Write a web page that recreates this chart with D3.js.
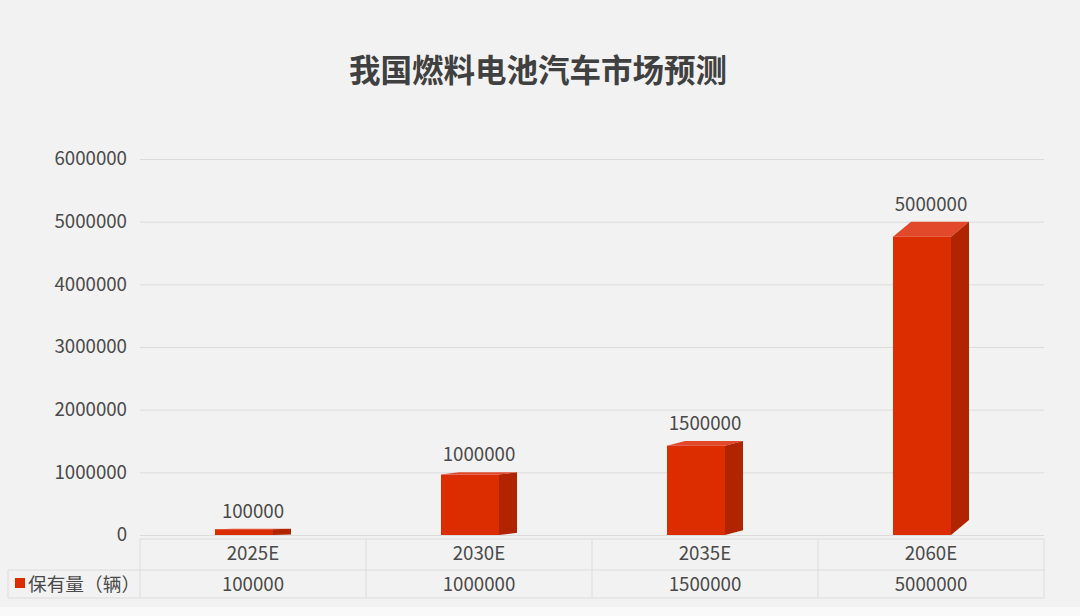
<!DOCTYPE html>
<html>
<head>
<meta charset="utf-8">
<script src="https://cdn.jsdelivr.net/npm/d3@7"></script>
<style>
  body { margin: 0; background: #f2f2f2; }
  svg { display: block; }
  text { font-family: "Noto Sans CJK SC", "Noto Sans", sans-serif; fill: #4a4a4a; }
</style>
</head>
<body>
<svg id="chart" width="1080" height="616"></svg>
<script>
// chart data
const categories = ['2025E', '2030E', '2035E', '2060E'];
const values = [100000, 1000000, 1500000, 5000000];
const yTicks = [0, 1000000, 2000000, 3000000, 4000000, 5000000, 6000000];
const seriesName = '保有量（辆）';
const title = '我国燃料电池汽车市场预测';

const width = 1080, height = 616;
const plotLeft = 140, plotRight = 1044, plotTop = 159, base = 535;
const frontW = 58, sideW = 18;   // bar front width, side (depth) width
const colFront = '#dc2d00', colTop = '#e2492a', colSide = '#b02400';
const lineColor = '#dcdcdc';
const labelSize = '18.7px';

const svg = d3.select('#chart');

// background, with the light strip at the very bottom
svg.append('rect').attr('width', width).attr('height', height).attr('fill', '#f2f2f2');
svg.append('rect').attr('y', 607).attr('width', width).attr('height', height - 607).attr('fill', '#f9f9f9');

// title
svg.append('text')
  .attr('x', 538).attr('y', 82)
  .attr('text-anchor', 'middle')
  .style('font-size', '31.5px')
  .style('font-weight', 'bold')
  .style('fill', '#404040')
  .text(title);

const x = d3.scaleBand().domain(categories).range([plotLeft, plotRight]).padding(0);
const y = d3.scaleLinear().domain([0, 6000000]).range([base, plotTop]);

// y axis with gridlines
const yAxis = svg.append('g')
  .attr('transform', `translate(${plotLeft},0)`)
  .call(d3.axisLeft(y).tickValues(yTicks).tickFormat(d3.format('d'))
    .tickSize(-(plotRight - plotLeft)).tickPadding(13));
yAxis.select('.domain').remove();
yAxis.selectAll('line').attr('stroke', lineColor);
yAxis.selectAll('text')
  .attr('fill', '#4a4a4a')
  .style('font-size', labelSize)
  .style('font-family', '"Noto Sans CJK SC", sans-serif');

// fake perspective: the back edge rises more as bars go right
function depthY(cx) {
  const t = (cx - x(categories[0])) / (x(categories[categories.length - 1]) - x(categories[0]));
  return 0.5 + 5 * t + 9.5 * Math.pow(t, 6);
}

const bars = svg.append('g').selectAll('g')
  .data(categories.map((c, i) => ({ cat: c, value: values[i] })))
  .join('g');

bars.each(function(d) {
  const g = d3.select(this);
  const fx = x(d.cat) + (x.bandwidth() - frontW - sideW) / 2;
  const yb = y(d.value);
  const dy = depthY(x(d.cat));
  const yf = yb + dy;
  // front
  g.append('rect')
    .attr('x', fx).attr('y', yf)
    .attr('width', frontW).attr('height', base - yf)
    .attr('fill', colFront);
  // top
  g.append('polygon')
    .attr('points', [[fx, yf], [fx + sideW, yb], [fx + frontW + sideW, yb], [fx + frontW, yf]].join(' '))
    .attr('fill', colTop);
  // side
  g.append('polygon')
    .attr('points', [[fx + frontW, yf], [fx + frontW + sideW, yb], [fx + frontW + sideW, base - dy], [fx + frontW, base]].join(' '))
    .attr('fill', colSide);
  // value label
  g.append('text')
    .attr('x', fx + (frontW + sideW) / 2)
    .attr('y', yb - 11)
    .attr('text-anchor', 'middle')
    .style('font-size', labelSize)
    .text(d.value);
});

// data table below the chart
const t0 = 539, t1 = 570, t2 = 598, legendLeft = 8;
const table = svg.append('g').attr('stroke', lineColor).attr('stroke-width', 1);
table.append('line').attr('x1', plotLeft).attr('x2', plotRight).attr('y1', t0).attr('y2', t0);
table.append('line').attr('x1', legendLeft).attr('x2', plotRight).attr('y1', t1).attr('y2', t1);
table.append('line').attr('x1', legendLeft).attr('x2', plotRight).attr('y1', t2).attr('y2', t2);
table.append('line').attr('x1', legendLeft).attr('x2', legendLeft).attr('y1', t1).attr('y2', t2);
categories.forEach(c => {
  table.append('line').attr('x1', x(c)).attr('x2', x(c)).attr('y1', t0).attr('y2', t2);
});
table.append('line').attr('x1', plotRight).attr('x2', plotRight).attr('y1', t0).attr('y2', t2);

svg.append('g').selectAll('text')
  .data(categories)
  .join('text')
    .attr('x', d => x(d) + x.bandwidth() / 2)
    .attr('y', 560)
    .attr('text-anchor', 'middle')
    .style('font-size', labelSize)
    .text(d => d);

svg.append('g').selectAll('text')
  .data(values)
  .join('text')
    .attr('x', (d, i) => x(categories[i]) + x.bandwidth() / 2)
    .attr('y', 591)
    .attr('text-anchor', 'middle')
    .style('font-size', labelSize)
    .text(d => d);

// legend key in the table
svg.append('rect')
  .attr('x', 15).attr('y', 578).attr('width', 10).attr('height', 10)
  .attr('fill', colFront);
svg.append('text')
  .attr('x', 28).attr('y', 591)
  .style('font-size', labelSize)
  .text(seriesName);
</script>
</body>
</html>
